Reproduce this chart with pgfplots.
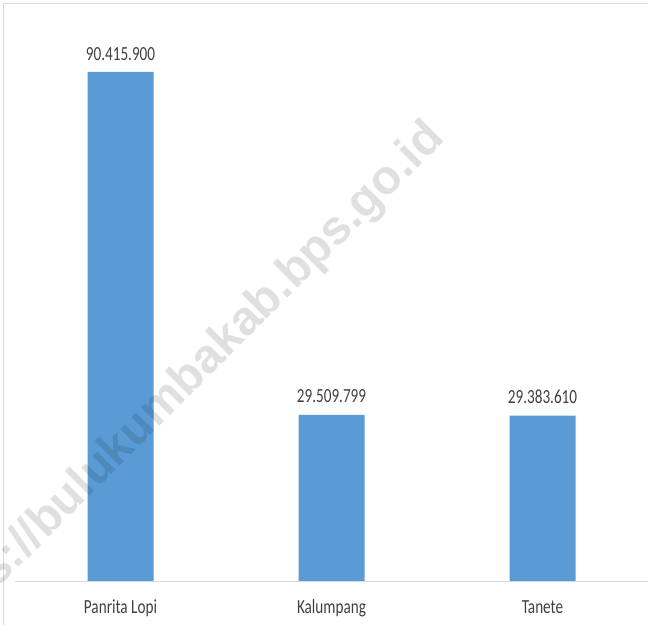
\documentclass[border=0pt]{standalone}
\usepackage{pgfplots}
\pgfplotsset{compat=1.18}
\usepackage{fontspec}
\setmainfont{Carlito}[FakeStretch=0.76]
\newfontfamily\wmfont{Liberation Sans}
\definecolor{barblue}{HTML}{5B9BD5}
\definecolor{txt}{HTML}{404040}
\definecolor{frame}{HTML}{D9D9D9}
\begin{document}
\begin{tikzpicture}
\begin{axis}[
  scale only axis,
  width=633pt, height=577pt,
  xmin=-0.5, xmax=2.5,
  ymin=0, ymax=102495050,
  axis x line=bottom,
  axis y line=none,
  x axis line style={frame, line width=1pt, -},
  xtick={0,1,2},
  xticklabels={Panrita Lopi, Kalumpang, Tanete},
  major tick length=0pt,
  xticklabel style={anchor=base, yshift=-32pt, text=txt, font=\fontsize{20}{24}\selectfont},
  ytick=\empty,
  point meta=explicit symbolic,
  nodes near coords,
  nodes near coords style={anchor=base, yshift=12pt, text=txt, font=\fontsize{20}{24}\selectfont, inner sep=0pt},
]
\addplot[ybar, bar width=66pt, fill=barblue, draw=none] table[x=x, y=y, meta=lab] {
x y lab
0 90415900 90.415.900
1 29509799 29.509.799
2 29383610 29.383.610
};
\end{axis}
\begin{scope}[shift={(current axis.south west)}, x=1pt, y=1pt]
  \draw[frame, line width=1pt] (-11,-44) -- (-11,577) -- (645,577);
  \draw[frame, line width=1pt] (0,0) -- (645,0);
  \node[rotate=45, anchor=base east, inner sep=0pt, text=black, text opacity=0.12,
        font=\wmfont\bfseries\fontsize{48}{50}\selectfont] at (431,441) {https://bulukumbakab.bps.go.id};
  \pgfresetboundingbox
  \useasboundingbox (-15,-44) rectangle (633,581);
\end{scope}
\end{tikzpicture}
\end{document}
